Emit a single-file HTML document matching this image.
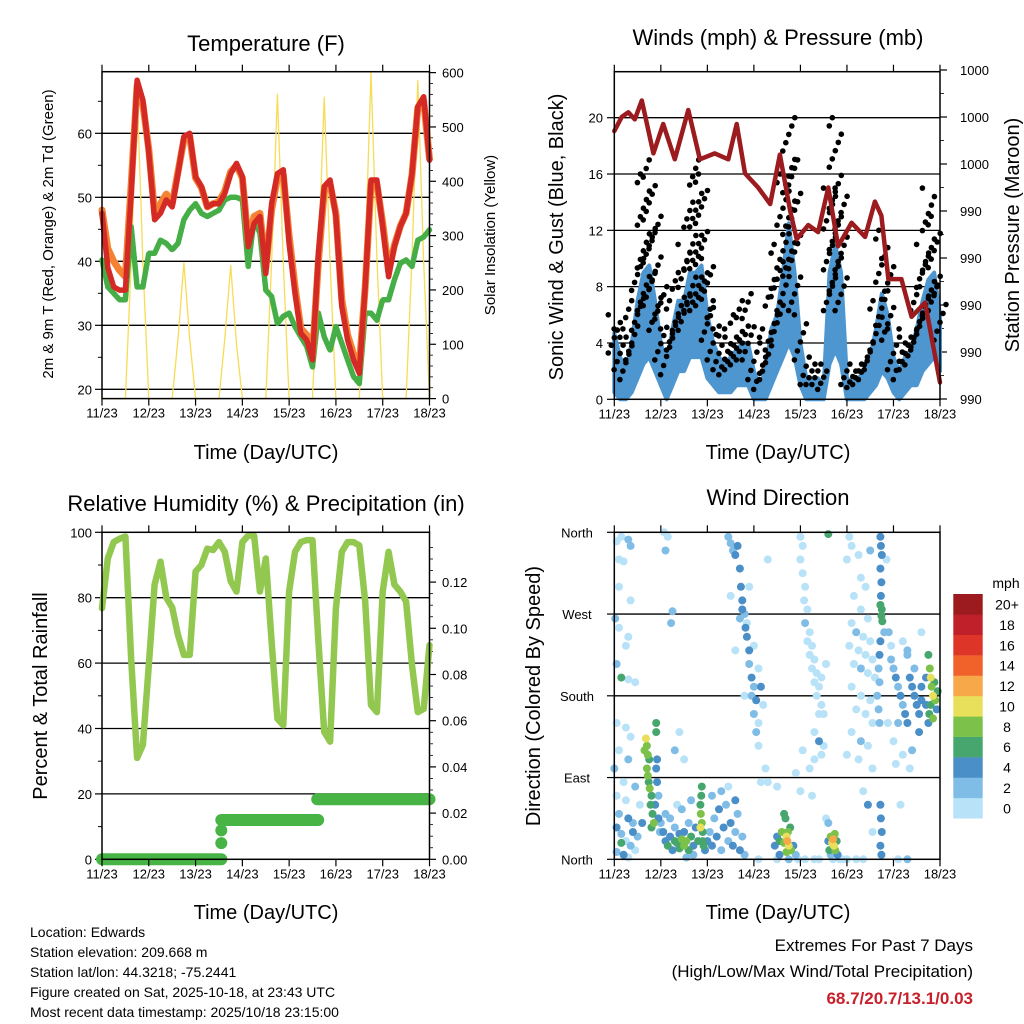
<!DOCTYPE html>
<html><head><meta charset="utf-8"><style>
html,body{margin:0;padding:0;background:#fff;}
svg{display:block;font-family:"Liberation Sans",Arial,sans-serif;}
</style></head><body>
<svg id="c" width="1024" height="1024" viewBox="0 0 1024 1024" xmlns="http://www.w3.org/2000/svg">
<rect width="1024" height="1024" fill="#fff"/>
<text x="266" y="51" font-size="22" text-anchor="middle">Temperature (F)</text>
<text x="778" y="45" font-size="22" text-anchor="middle">Winds (mph) &amp; Pressure (mb)</text>
<text x="266" y="511" font-size="22" text-anchor="middle">Relative Humidity (%) &amp; Precipitation (in)</text>
<text x="778" y="505" font-size="22" text-anchor="middle">Wind Direction</text>
<text transform="translate(53,234) rotate(-90)" font-size="15" text-anchor="middle">2m &amp; 9m T (Red, Orange) &amp; 2m Td (Green)</text>
<text transform="translate(495,235) rotate(-90)" font-size="15" text-anchor="middle">Solar Insolation (Yellow)</text>
<text transform="translate(563,237) rotate(-90)" font-size="20" text-anchor="middle">Sonic Wind &amp; Gust (Blue, Black)</text>
<text transform="translate(1019,235) rotate(-90)" font-size="20" text-anchor="middle">Station Pressure (Maroon)</text>
<text transform="translate(47,696) rotate(-90)" font-size="20" text-anchor="middle">Percent &amp; Total Rainfall</text>
<text transform="translate(540,696) rotate(-90)" font-size="20" text-anchor="middle">Direction (Colored By Speed)</text>
<text x="266" y="459" font-size="20" text-anchor="middle">Time (Day/UTC)</text>
<text x="778" y="459" font-size="20" text-anchor="middle">Time (Day/UTC)</text>
<text x="266" y="919" font-size="20" text-anchor="middle">Time (Day/UTC)</text>
<text x="778" y="919" font-size="20" text-anchor="middle">Time (Day/UTC)</text>
<g font-size="14">
<text x="30" y="937">Location: Edwards</text>
<text x="30" y="957">Station elevation: 209.668 m</text>
<text x="30" y="977">Station lat/lon: 44.3218; -75.2441</text>
<text x="30" y="997">Figure created on Sat, 2025-10-18, at 23:43 UTC</text>
<text x="30" y="1017">Most recent data timestamp: 2025/10/18 23:15:00</text>
</g>
<g font-size="17" text-anchor="end">
<text x="973" y="951">Extremes For Past 7 Days</text>
<text x="973" y="977">(High/Low/Max Wind/Total Precipitation)</text>
<text x="973" y="1004" fill="#c8202a" font-weight="bold">68.7/20.7/13.1/0.03</text>
</g>
</svg>
<script>
// ---- data ----
const dayLabels = ['11/23','12/23','13/23','14/23','15/23','16/23','17/23','18/23'];
const stepDays = 0.125;
const temp9m = [47.5,39,36,35.5,35.5,50.6,68.3,65.2,56.9,46.5,47.5,49.6,48.5,53.7,59.5,60,53.2,51.7,48.5,49,49,50.6,53.7,55.3,53.2,42.3,45.9,47,38.1,49,53.7,54.3,42.8,35,28.75,27.7,24.6,41.25,51.7,52.7,47,32.9,27.7,24.6,22.5,36,52.7,52.7,45.4,37.6,42.3,45.4,47.5,53.7,64.2,65.7,55.8];
const temp2m = [48,42,40,38.6,37.6,52,67.5,64.5,57.5,47.5,49,50.5,49,54,59,59.5,53,51.5,48.5,49,49.3,51,54,55,53,43,47,47.5,39,48,53,53.5,44,36,29.5,28.5,25.5,40,51,52,47.5,34,28.5,25.5,23.5,36,52,52,46,38.5,42.5,45.5,47.5,53.5,64,65,56];
const dewpt = [40.2,36,35,34,34,45.4,36,36,41.25,41.25,43.3,42.8,41.8,42.8,46.5,48,49,47.5,47,47.5,48,49.6,50,50,49.6,39.2,46.5,44.4,35.5,34.5,30.3,31.4,31.9,29.8,28.2,26.7,23.5,31.9,28.2,26.1,29.8,27.2,24.6,22,20.9,31.9,31.9,30.8,34,34,37.1,39.7,40.2,39.2,43.3,43.8,44.9];
const solar = [0,0,0,0,0,250,570,250,0,0,0,0,0,110,250,110,0,0,0,0,0,110,245,100,0,0,0,0,0,250,560,250,0,0,0,0,0,250,555,250,0,0,0,0,0,260,600,260,0,0,0,0,0,260,585,250,0];
const windHi = [4.7,3,2,4,7,9,9.5,7,4,2.5,5,7,7,9,9,9.5,6,4,3,2.5,3,3.5,4,4,2,1,2,5,6,9,12.5,9,4,1.5,1.5,1.5,1,9,11,9,1.5,1.2,1.5,2,3,5,7.5,6,3,2,3,3.5,5,7,8.5,9,6];
const windLo = [0.5,0,0,0.5,1.5,2.5,3,2,1,0,1,2,2,3,3,3,1.5,1,0.5,0.5,0.5,1,1,1,0,0,0,1,2,3,4,3,1,0,0,0,0,2.5,3.5,2.5,0,0,0,0,0.5,1,2,1.5,0.5,0,0.5,1,1,2,2.5,3,2];
const windGust = [6,5,5,7,10,16,17,13,8,5,7,9,11,14,17,16,10,7,5,4.5,5,6,7,7.5,4,3,5,8.5,11,16,20,17,6,3,2.5,2.5,2,15,20,15,2.5,2,2.5,3,4,7,12,10,5,4,5,5,8,11,15,13,8];
const presDays = [0,0.16,0.3,0.44,0.59,0.84,1.05,1.3,1.59,1.84,2.16,2.45,2.63,2.81,3.09,3.35,3.56,3.78,3.92,4.17,4.38,4.6,4.81,5.1,5.39,5.6,5.74,5.89,6.17,6.39,6.68,7.0];
const presVals = [999.9,1000.5,1000.7,1000.4,1001.2,998.95,1000.2,998.7,1000.8,998.7,998.95,998.7,1000.2,998.1,997.5,996.8,998.9,996.5,995.3,995.9,995.6,997.5,995.0,996.0,995.4,996.9,996.3,993.6,993.6,992.0,992.6,989.2];
const rhVals = [76.8,92,97,98,98.7,61,31,35,59.4,84,91,80,77,68.6,62.5,62.5,88,90,95,94.6,97,94,85,81.9,97,99,99,81.9,92,66.6,43,41,81.9,94,97,97.6,97.6,66.6,39,36,76.8,94,97,97,96,78.8,47.2,45,81.9,94,84,81.9,78.8,59.4,45,46,65.5];
const rainStart = [0,2.55,4.6];
const rainEnd = [2.55,4.62,7.0];
const rainVal = [0,0.017,0.026];
const rainDotDay = [2.55,2.55];
const rainDotVal = [0.007,0.0125];
const dirPts = [
[0.05,350,0],[0.15,355,0],[0.3,352,1],[0.35,345,1],[0.1,330,0],[0.2,328,0],[0.1,300,0],[0.35,285,0],[0.02,265,2],[0.1,255,0],[0.3,245,0],[0.25,235,0],[0.05,215,2],[0.15,200,6],[0.3,198,0],[0.45,195,0],[0.05,150,0],[0.25,145,0],[0.35,135,0],[0.1,120,0],[0.3,110,2],[0.0,100,2],[0.2,85,0],[0.45,80,2],[0.05,70,0],[0.25,65,0],[0.1,50,2],[0.3,45,4],[0.4,40,2],[0.05,35,4],[0.15,28,2],[0.25,20,0],[0.35,15,2],[0.45,10,0],[0.05,8,2],[0.2,5,4],[0.3,2,0],[0.4,30,4],[0.15,18,6],[0.5,25,2],[0.55,60,0],[0.6,40,4],
[1.07,360,0],[1.15,355,0],[1.1,340,2],[1.25,273,2],[1.22,260,2],[1.4,140,0],[1.3,120,2],[1.5,110,0],
[0.68,133,10],[0.7,125,8],[0.65,120,8],[0.72,115,8],[0.75,110,6],[0.7,100,8],[0.72,92,8],[0.74,85,6],[0.76,78,8],[0.8,70,6],[0.78,60,6],[0.82,50,6],[0.85,40,8],[0.8,35,6],[0.9,140,6],[0.9,150,6],[0.92,110,4],[0.9,100,4],[0.92,85,4],[0.95,70,2],[0.88,60,4],[0.95,45,4],[0.98,30,2],
[1.0,40,2],[1.05,30,4],[1.1,20,4],[1.1,50,2],[1.15,15,6],[1.2,25,4],[1.25,10,4],[1.3,35,2],[1.3,20,6],[1.35,18,6],[1.4,28,4],[1.4,12,6],[1.45,22,8],[1.5,15,8],[1.5,30,4],[1.55,20,8],[1.6,10,6],[1.6,40,2],[1.65,25,6],[1.7,15,4],[1.75,35,4],[1.8,20,6],[1.85,60,6],[1.87,70,6],[1.88,80,6],[1.86,50,8],[1.88,40,8],[1.9,30,6],[1.9,20,6],[1.92,15,6],[1.85,35,10],[1.95,10,4],[1.2,45,2],[1.45,55,2],[1.7,5,2],[1.55,2,2],[1.35,60,0],[1.65,65,2],
[2.0,20,4],[2.05,30,2],[2.1,15,4],[2.15,45,2],[2.2,25,4],[2.25,55,4],[2.3,10,2],[2.35,35,4],[2.4,60,2],[2.45,20,2],[2.5,40,4],[2.55,15,4],[2.6,30,2],[2.65,50,2],[2.7,10,4],[2.75,25,2],[2.8,5,2],[2.3,75,2],[2.45,80,0],[2.1,70,2],[2.6,65,4],
[2.45,355,2],[2.5,348,2],[2.55,340,2],[2.6,335,4],[2.65,345,4],[2.7,320,4],[2.72,300,4],[2.75,285,4],[2.75,275,4],[2.7,265,2],[2.8,270,2],[2.82,255,4],[2.85,245,4],[2.9,230,4],[2.9,215,2],[2.95,200,4],[3.0,190,2],[2.95,180,2],[3.05,175,4],[3.0,160,2],[3.1,150,0],[3.05,140,2],[3.1,125,0],[2.85,260,0],[2.9,300,0],[3.0,235,0],[3.1,210,0],[3.15,190,4],[3.2,170,0],[3.25,100,0],[3.15,85,0],[3.3,85,0],[2.6,230,0],[2.5,290,0],[3.3,330,0],[2.8,180,0],
[3.45,15,4],[3.5,25,4],[3.55,5,4],[3.55,20,6],[3.6,30,8],[3.65,18,8],[3.7,25,10],[3.72,20,12],[3.75,15,10],[3.73,30,8],[3.8,10,8],[3.78,35,6],[3.65,50,6],[3.68,45,6],[3.85,15,4],[3.9,5,2],[3.5,0,0],[3.7,8,8],[3.75,0,2],[3.95,0,0],[3.5,80,0],[3.9,95,0],
[4.0,355,0],[4.05,345,0],[4.0,330,0],[4.05,315,0],[4.1,300,0],[4.08,285,0],[4.15,275,0],[4.1,260,2],[4.2,250,0],[4.15,240,0],[4.25,235,0],[4.2,225,0],[4.3,220,0],[4.25,210,0],[4.35,205,0],[4.3,195,0],[4.4,190,0],[4.35,180,0],[4.45,170,0],[4.4,160,0],[4.3,140,0],[4.4,130,4],[4.5,125,0],[4.45,115,0],[4.3,110,0],[4.2,100,0],[4.05,120,0],[4.5,160,0],[4.45,200,0],[4.55,215,0],[4.25,70,0],[4.0,75,0],[4.55,45,0],[4.6,358,6],
[4.6,20,4],[4.62,10,6],[4.65,25,8],[4.68,18,10],[4.7,22,12],[4.72,15,10],[4.74,28,8],[4.75,10,8],[4.78,20,6],[4.8,5,4],[4.65,5,2],[4.7,0,0],[4.9,0,0],[5.0,0,0],[4.85,0,0],[4.6,40,2],
[5.05,355,0],[5.1,345,0],[5.0,330,0],[5.25,335,0],[5.3,310,0],[5.4,300,0],[5.15,290,0],[5.3,275,0],[5.45,265,0],[5.1,260,0],[5.2,250,0],[5.35,245,0],[5.5,240,0],[5.05,235,0],[5.25,230,0],[5.4,225,0],[5.55,220,0],[5.15,215,0],[5.3,210,2],[5.45,205,0],[5.6,200,0],[5.1,190,0],[5.3,180,0],[5.5,175,0],[5.2,165,0],[5.4,160,0],[5.55,150,0],[5.1,140,0],[5.3,130,2],[5.45,125,0],[5.0,115,0],[5.25,110,0],[5.55,100,0],[5.35,75,0],[5.55,30,0],[5.45,60,4],[5.2,250,2],[5.5,340,2],
[5.72,355,4],[5.73,345,4],[5.75,335,4],[5.72,320,4],[5.74,305,4],[5.73,290,4],[5.72,280,6],[5.75,275,6],[5.74,268,6],[5.76,262,6],[5.8,250,2],[5.72,240,4],[5.7,225,4],[5.68,210,2],[5.7,195,2],[5.65,180,2],[5.68,165,2],[5.7,150,2],[5.72,60,4],[5.73,45,4],[5.75,30,4],[5.72,15,4],[5.74,5,4],[5.9,250,2],[5.85,330,0],[5.95,235,0],[5.88,150,0],
[5.95,220,2],[6.0,210,2],[6.05,200,4],[6.1,190,2],[6.15,180,4],[6.2,170,2],[6.25,160,4],[6.3,150,4],[6.35,200,4],[6.4,190,4],[6.45,180,4],[6.5,170,4],[6.55,160,4],[6.6,175,4],[6.45,210,2],[6.3,225,2],[6.2,240,0],[6.1,150,2],[6.0,130,0],[6.2,115,0],[6.4,120,2],[6.6,190,4],[6.55,140,4],[6.35,100,0],[6.15,60,0],[6.3,230,2],[6.05,105,0],[6.6,250,0],
[6.75,225,6],[6.78,210,8],[6.8,200,10],[6.82,190,8],[6.85,180,10],[6.8,170,6],[6.77,160,6],[6.85,155,8],[6.9,175,8],[6.88,195,6],[6.75,150,4],[6.7,170,4],[6.7,200,4],[6.95,185,6],[6.93,165,4],
[3.1,0,0],[4.1,0,0],[4.3,0,0],[4.4,0,0],[5.2,0,0],[5.35,0,0],[6.1,0,0],[6.3,0,2]
];
const cbLabels = ['0','2','4','6','8','10','12','14','16','18','20+'];
const cbColors = ['#b8e2f7','#80bde6','#4a8fc7','#47a56e','#7cc24a','#e8e05a','#f7a848','#f0622a','#de3529','#c0202a','#9b1b1f'];
const tempTicks = [20,30,40,50,60];
const solarTicks = [0,100,200,300,400,500,600];
const windTicks = [0,4,8,12,16,20];
const presLabels = ['990','990','990','990','990','1000','1000','1000'];
const rhTicks = [0,20,40,60,80,100];
const rainTicks = ['0.00','0.02','0.04','0.06','0.08','0.10','0.12'];
const dirLabels = ['North','East','South','West','North'];

// ---- scales ----
const NS='http://www.w3.org/2000/svg';
const svg=document.getElementById('c');
function el(tag,parent){const e=document.createElementNS(NS,tag);(parent||svg).appendChild(e);return e;}
const xL=d=>102+d*(327.5/7);
const xR=d=>614.3+d*(325.7/7);
const yT=v=>389.3-(v-20)*6.4;
const yS=w=>398.6-w*0.5433;
const yW=m=>399.3-m*14.08;
const yP=p=>399-(p-988.5)*23.5;
const yR=v=>859.3-v*3.27;
const yPr=v=>859.3-v*2310;
const yD=d=>859.3-d*327/360;
const tOf=i=>i*stepDays;

function line(p,x1,y1,x2,y2,col,w){const l=el('line',p);l.setAttribute('x1',x1);l.setAttribute('y1',y1);l.setAttribute('x2',x2);l.setAttribute('y2',y2);l.setAttribute('stroke',col);l.setAttribute('stroke-width',w);return l;}
function txt(p,x,y,s,anchor,size){const t=el('text',p);t.setAttribute('x',x);t.setAttribute('y',y);t.setAttribute('text-anchor',anchor);t.setAttribute('font-size',size);t.textContent=s;return t;}
function poly(p,pts,col,w){const l=el('polyline',p);l.setAttribute('points',pts.map(q=>q[0].toFixed(1)+','+q[1].toFixed(1)).join(' '));l.setAttribute('fill','none');l.setAttribute('stroke',col);l.setAttribute('stroke-width',w);l.setAttribute('stroke-linejoin','round');l.setAttribute('stroke-linecap','round');return l;}
function frame(p,x0,y0,x1,y1){const r=el('rect',p);r.setAttribute('x',x0);r.setAttribute('y',y0);r.setAttribute('width',x1-x0);r.setAttribute('height',y1-y0);r.setAttribute('fill','none');r.setAttribute('stroke','#000');r.setAttribute('stroke-width','1.5');return r;}
function xAxis(p,xf,yb,yt){for(let d=0;d<dayLabels.length;d++){const x=xf(d);line(p,x,yb,x,yb+7,'#000',1.2);line(p,x,yt,x,yt-7,'#000',1.2);const t=txt(p,x,yb+19,dayLabels[d],'middle',13);

}}

// ===== Temperature panel =====
const gT=el('g');


tempTicks.forEach(v=>{line(gT,102,yT(v),429.5,yT(v),'#000',1.3);line(gT,102,yT(v),95,yT(v),'#000',1.2);const t=txt(gT,92,yT(v)+5,String(v),'end',13);

});
[25,35,45,55,65].forEach(v=>line(gT,102,yT(v),98,yT(v),'#000',1));
solarTicks.forEach(v=>{line(gT,429.5,yS(v),436,yS(v),'#000',1.2);const t=txt(gT,442,yS(v)+5,String(v),'start',13);

});
for(let v=20;v<600;v+=20){if(v%100)line(gT,429.5,yS(v),433,yS(v),'#000',0.8);}
const sol=poly(gT,solar.map((v,i)=>[xL(tOf(i)),yS(v)]),'#f7dc55',1.3);


const dp=poly(gT,dewpt.map((v,i)=>[xL(tOf(i)),yT(v)]),'#46ae46',5.5);
dp.setAttribute('stroke-dasharray','3 1.5');


const t2=poly(gT,temp2m.map((v,i)=>[xL(tOf(i)),yT(v)]),'#f58233',7);


const t9=poly(gT,temp9m.map((v,i)=>[xL(tOf(i)),yT(v)]),'#d42a26',5.5);


frame(gT,102,71.7,429.5,398.6);
xAxis(gT,xL,398.6,71.7);

// ===== Wind panel =====
const gW=el('g');


windTicks.forEach(v=>{if(v>0)line(gW,614.3,yW(v),940,yW(v),'#000',1.3);line(gW,614.3,yW(v),607,yW(v),'#000',1.2);const t=txt(gW,603,yW(v)+5,String(v),'end',13);

});
presLabels.forEach((s,i)=>{const p=988.5+2*i;line(gW,940,yP(p),947,yP(p),'#000',1.2);if(i<presLabels.length-1)line(gW,940,yP(p+1),944,yP(p+1),'#000',0.8);const t=txt(gW,960,yP(p)+5,s,'start',13);

});
const band=el('polygon',gW);
band.setAttribute('points',windHi.map((v,i)=>xR(tOf(i)).toFixed(1)+','+yW(v).toFixed(1)).concat(windLo.map((v,i)=>xR(tOf(i)).toFixed(1)+','+yW(v).toFixed(1)).reverse()).join(' '));
band.setAttribute('fill','#4e96d0');
band.setAttribute('stroke','#4e96d0');
band.setAttribute('stroke-width','4');
band.setAttribute('stroke-linejoin','round');


const gG=el('g',gW);


windGust.forEach((g,i)=>{const lo=windHi[i]*0.7;const n=Math.max(3,Math.round((g-lo)/0.6));for(let k=0;k<=n;k++){const v=lo+(g-lo)*k/n;const c=el('circle',gG);c.setAttribute('cx',(xR(tOf(i))+((k%5)-2)*3).toFixed(1));c.setAttribute('cy',yW(v).toFixed(1));c.setAttribute('r','2.8');c.setAttribute('fill','#000');

}});
const pl=poly(gW,presVals.map((v,i)=>[xR(presDays[i]),yP(v)]),'#9b1b1f',4.5);


frame(gW,614.3,71.7,940,399.3);
xAxis(gW,xR,399.3,71.7);

// ===== RH panel =====
const gR=el('g');


rhTicks.forEach(v=>{if(v>0&&v<100)line(gR,102,yR(v),429.5,yR(v),'#000',1.3);line(gR,102,yR(v),95,yR(v),'#000',1.2);const t=txt(gR,92,yR(v)+5,String(v),'end',13);

});
[10,30,50,70,90].forEach(v=>line(gR,102,yR(v),98,yR(v),'#000',1));
rainTicks.forEach((s,i)=>{const v=i*0.02;line(gR,429.5,yPr(v),436,yPr(v),'#000',1.2);const t=txt(gR,442,yPr(v)+5,s,'start',13);

});
for(let v=0.005;v<0.14;v+=0.005){if(Math.abs(v/0.02-Math.round(v/0.02))>0.01)line(gR,429.5,yPr(v),433,yPr(v),'#000',0.8);}
const rh=poly(gR,rhVals.map((v,i)=>[xL(tOf(i)),yR(v)]),'#92c850',6.5);


rainStart.forEach((s,i)=>{const l=line(gR,xL(s),yPr(rainVal[i]),xL(rainEnd[i]),yPr(rainVal[i]),'#48b446',12);l.setAttribute('stroke-linecap','round');

});
rainDotDay.forEach((d,i)=>{const c=el('circle',gR);c.setAttribute('cx',xL(d));c.setAttribute('cy',yPr(rainDotVal[i]));c.setAttribute('r','6');c.setAttribute('fill','#48b446');

});
frame(gR,102,532.3,429.5,859.3);
xAxis(gR,xL,859.3,532.3);

// ===== Direction panel =====
const gD=el('g');


dirLabels.forEach((s,i)=>{const y=yD(i*90);if(i>0&&i<4)line(gD,614.3,y,940,y,'#000',1.3);line(gD,614.3,y,607,y,'#000',1.2);const t=txt(gD,577,y+5,s,'middle',13);

});
const sorted=dirPts.slice().sort((a,b)=>a[2]-b[2]);
sorted.forEach(p=>{const c=el('circle',gD);c.setAttribute('cx',xR(p[0]).toFixed(1));c.setAttribute('cy',yD(p[1]).toFixed(1));c.setAttribute('r','4');c.setAttribute('fill',cbColors[Math.min(10,Math.round(p[2]/2))]);

});
frame(gD,614.3,532.3,940,859.3);
xAxis(gD,xR,859.3,532.3);

// colorbar
const gC=el('g');


const cbT=txt(gC,1006,588,'mph','middle',14);


cbColors.forEach((col,i)=>{const y=818.3-(i+1)*20.39;const r=el('rect',gC);r.setAttribute('x',953.3);r.setAttribute('y',y.toFixed(1));r.setAttribute('width',29.4);r.setAttribute('height',20.6);r.setAttribute('fill',col);


const t=txt(gC,1007,y+15.5,cbLabels[i],'middle',14);

});
</script>
</body></html>
